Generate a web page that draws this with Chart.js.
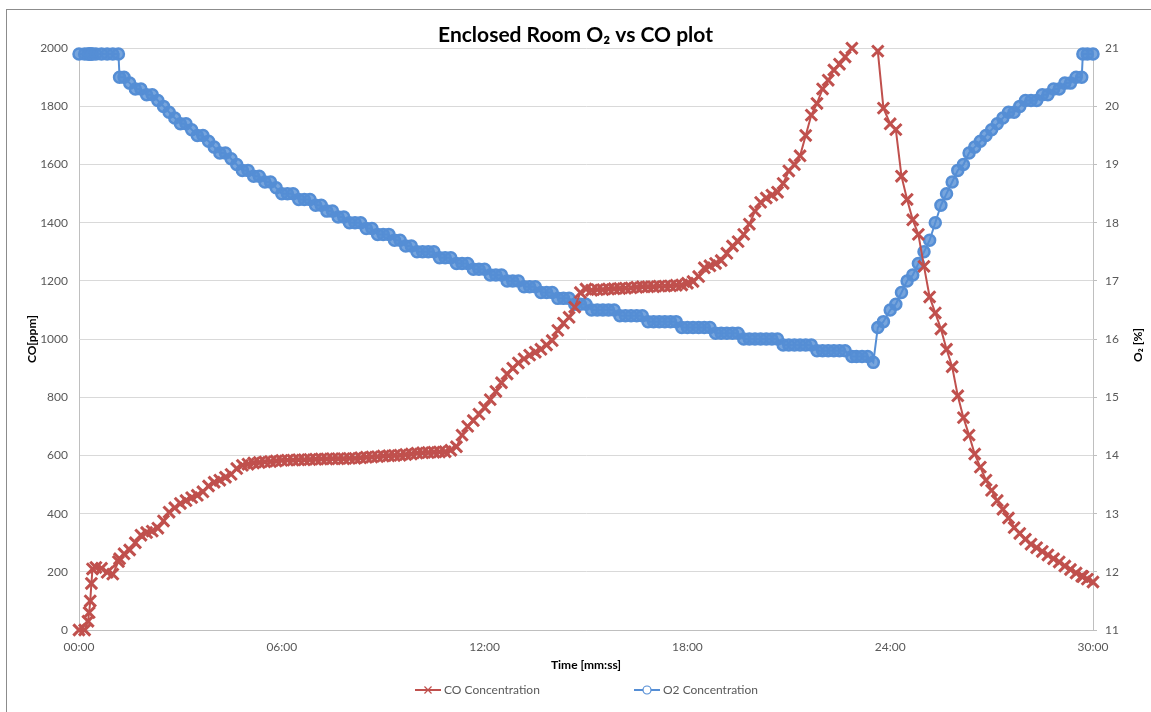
<!DOCTYPE html>
<html>
<head>
<meta charset="utf-8">
<script src="https://cdn.jsdelivr.net/npm/chart.js@4.4.1/dist/chart.umd.min.js"></script>
<style>
  html, body { margin: 0; padding: 0; background: #fff; }
</style>
</head>
<body>
<canvas id="roomChart" width="1151" height="712"></canvas>
<script>
// sample times in seconds from start of test
const timeSec = [
  0, 10, 16, 18, 20, 22, 24, 30, 40, 50,
  60, 70, 72, 80, 90, 100, 110, 120, 130, 140,
  150, 160, 170, 180, 190, 200, 210, 220, 230, 240,
  250, 260, 270, 280, 290, 300, 310, 320, 330, 340,
  350, 360, 370, 380, 390, 400, 410, 420, 430, 440,
  450, 460, 470, 480, 490, 500, 510, 520, 530, 540,
  550, 560, 570, 580, 590, 600, 610, 620, 630, 640,
  650, 660, 670, 680, 690, 700, 710, 720, 730, 740,
  750, 760, 770, 780, 790, 800, 810, 820, 830, 840,
  850, 860, 870, 880, 890, 900, 910, 920, 930, 940,
  950, 960, 970, 980, 990, 1000, 1010, 1020, 1030, 1040,
  1050, 1060, 1070, 1080, 1090, 1100, 1110, 1120, 1130, 1140,
  1150, 1160, 1170, 1180, 1190, 1200, 1210, 1220, 1230, 1240,
  1250, 1260, 1270, 1280, 1290, 1300, 1310, 1320, 1330, 1340,
  1350, 1360, 1372, 1380, 1390, 1400, 1410, 1418, 1428, 1440,
  1450, 1460, 1470, 1480, 1490, 1500, 1510, 1520, 1530, 1540,
  1550, 1560, 1570, 1580, 1590, 1600, 1610, 1620, 1630, 1640,
  1650, 1660, 1670, 1680, 1690, 1700, 1710, 1720, 1730, 1740,
  1750, 1760, 1770, 1780, 1782, 1790, 1800
];

// CO [ppm], null where the reading is above the 2000 ppm axis
const coPpm = [
  0, 0, 30, 60, 100, 160, 210, 215, 212, 198,
  192, 235, 245, 262, 275, 300, 326, 335, 340, 350,
  375, 405, 420, 435, 445, 455, 463, 475, 495, 508,
  515, 525, 535, 555, 566, 570, 574, 576, 578, 579,
  581, 583, 584, 584, 585, 585, 586, 587, 588, 588,
  589, 589, 589, 590, 590, 592, 594, 595, 596, 598,
  599, 600, 601, 603, 605, 608, 609, 610, 611, 612,
  613, 618, 630, 670, 700, 720, 742, 765, 792, 820,
  850, 880, 900, 918, 932, 945, 955, 965, 980, 995,
  1030, 1055, 1075, 1110, 1160, 1172, 1168, 1170, 1170, 1172,
  1173, 1174, 1175, 1176, 1178, 1180, 1180, 1180, 1182, 1182,
  1183, 1185, 1186, 1192, 1198, 1215, 1245, 1252, 1260, 1270,
  1295, 1320, 1335, 1360, 1395, 1440, 1470, 1485, 1495, 1505,
  1535, 1578, 1600, 1630, 1700, 1770, 1810, 1860, 1890, 1925,
  1945, 1970, 2000, null, null, null, null, 1990, 1794, 1740,
  1720, 1560, 1480, 1410, 1360, 1250, 1145, 1090, 1035, 965,
  905, 805, 730, 670, 605, 560, 515, 480, 445, 415,
  385, 352, 332, 312, 295, 283, 270, 258, 245, 234,
  220, 208, 196, 185, 184, 175, 165
];

// O2 [%]
const o2Pct = [
  20.9, 20.9, 20.9, 20.9, 20.9, 20.9, 20.9, 20.9, 20.9, 20.9,
  20.9, 20.9, 20.5, 20.5, 20.4, 20.3, 20.3, 20.2, 20.2, 20.1,
  20.0, 19.9, 19.8, 19.7, 19.7, 19.6, 19.5, 19.5, 19.4, 19.3,
  19.2, 19.2, 19.1, 19.0, 18.9, 18.9, 18.8, 18.8, 18.7, 18.7,
  18.6, 18.5, 18.5, 18.5, 18.4, 18.4, 18.4, 18.3, 18.3, 18.2,
  18.2, 18.1, 18.1, 18.0, 18.0, 18.0, 17.9, 17.9, 17.8, 17.8,
  17.8, 17.7, 17.7, 17.6, 17.6, 17.5, 17.5, 17.5, 17.5, 17.4,
  17.4, 17.4, 17.3, 17.3, 17.3, 17.2, 17.2, 17.2, 17.1, 17.1,
  17.1, 17.0, 17.0, 17.0, 16.9, 16.9, 16.9, 16.8, 16.8, 16.8,
  16.7, 16.7, 16.7, 16.6, 16.6, 16.6, 16.5, 16.5, 16.5, 16.5,
  16.5, 16.4, 16.4, 16.4, 16.4, 16.4, 16.3, 16.3, 16.3, 16.3,
  16.3, 16.3, 16.2, 16.2, 16.2, 16.2, 16.2, 16.2, 16.1, 16.1,
  16.1, 16.1, 16.1, 16.0, 16.0, 16.0, 16.0, 16.0, 16.0, 16.0,
  15.9, 15.9, 15.9, 15.9, 15.9, 15.9, 15.8, 15.8, 15.8, 15.8,
  15.8, 15.8, 15.7, 15.7, 15.7, 15.7, 15.6, 16.2, 16.3, 16.5,
  16.6, 16.8, 17.0, 17.1, 17.3, 17.5, 17.7, 18.0, 18.3, 18.5,
  18.7, 18.9, 19.0, 19.2, 19.3, 19.4, 19.5, 19.6, 19.7, 19.8,
  19.9, 19.9, 20.0, 20.1, 20.1, 20.1, 20.2, 20.2, 20.3, 20.3,
  20.4, 20.4, 20.5, 20.5, 20.9, 20.9, 20.9
];

const xTickLabels = ['00:00', '06:00', '12:00', '18:00', '24:00', '30:00'];

const coColor = '#c0504d';
const o2Color = '#558ed5';
const tickColor = '#595959';

Chart.defaults.font.family = 'Lato, "Open Sans", "DejaVu Sans", sans-serif';
Chart.defaults.font.size = 12;

const coPoints = timeSec.map((t, i) => ({ x: t, y: coPpm[i] }));
const o2Points = timeSec.map((t, i) => ({ x: t, y: o2Pct[i] }));

// white page + grey frame, right axis title and the legend row
const extras = {
  id: 'extras',
  beforeDraw(chart) {
    const c = chart.ctx;
    c.save();
    c.fillStyle = '#fff';
    c.fillRect(0, 0, chart.width, chart.height);
    c.strokeStyle = '#8c8c8c';
    c.lineWidth = 1;
    c.strokeRect(6.5, 9.5, chart.width + 20, chart.height + 20);
    c.restore();
  },
  afterDraw(chart) {
    const c = chart.ctx;
    c.save();
    // O2 axis title, reads bottom to top like the left one
    c.translate(1138, 345);
    c.rotate(-Math.PI / 2);
    c.fillStyle = '#000';
    c.font = 'bold 12px ' + Chart.defaults.font.family;
    c.textAlign = 'center';
    c.textBaseline = 'middle';
    c.fillText('O₂ [%]', 0, 0);
    c.restore();

    const items = [
      { ds: chart.data.datasets[0], x: 415, r: 5 },
      { ds: chart.data.datasets[1], x: 634, r: 4 }
    ];
    const y = 690;
    items.forEach(it => {
      c.save();
      c.strokeStyle = it.ds.borderColor;
      c.lineWidth = 2;
      c.beginPath();
      c.moveTo(it.x, y);
      c.lineTo(it.x + 26, y);
      c.stroke();
      c.fillStyle = '#fff';
      c.lineWidth = 1.2;
      Chart.helpers.drawPoint(c, { pointStyle: it.ds.pointStyle, radius: it.r, borderWidth: 1.2 }, it.x + 13, y);
      c.restore();
      c.save();
      c.fillStyle = tickColor;
      c.font = '12px ' + Chart.defaults.font.family;
      c.textBaseline = 'middle';
      c.fillText(it.ds.label, it.x + 29, y);
      c.restore();
    });
  }
};

new Chart(document.getElementById('roomChart'), {
  type: 'line',
  data: {
    datasets: [
      {
        label: 'CO Concentration',
        data: coPoints,
        yAxisID: 'y',
        borderColor: coColor,
        backgroundColor: coColor,
        borderWidth: 2,
        pointStyle: 'crossRot',
        pointRadius: 8,
        pointBorderWidth: 3,
        pointBorderColor: coColor,
        clip: false
      },
      {
        label: 'O2 Concentration',
        data: o2Points,
        yAxisID: 'y2',
        borderColor: o2Color,
        backgroundColor: 'rgba(85,142,213,0.8)',
        borderWidth: 2,
        pointStyle: 'circle',
        pointRadius: 5.5,
        pointBorderWidth: 2.5,
        pointBorderColor: o2Color,
        pointBackgroundColor: 'rgba(85,142,213,0.8)',
        clip: false
      }
    ]
  },
  options: {
    responsive: false,
    animation: false,
    layout: { padding: { left: 0, right: 0, top: 0, bottom: 40 } },
    plugins: {
      legend: { display: false },
      tooltip: { enabled: false },
      title: {
        display: true,
        text: 'Enclosed Room O₂ vs CO plot',
        color: '#000',
        font: { size: 21, weight: 'bold' },
        padding: { top: 23, bottom: 0 }
      }
    },
    scales: {
      x: {
        type: 'linear',
        min: 0,
        max: 1800,
        ticks: {
          stepSize: 360,
          padding: 10,
          color: tickColor,
          maxRotation: 0,
          callback: (v, i) => xTickLabels[i]
        },
        grid: { display: false, drawTicks: false },
        border: { display: true, color: '#bfbfbf' },
        title: {
          display: true,
          text: 'Time [mm:ss]',
          color: '#000',
          font: { size: 12, weight: 'bold' },
          padding: { top: 4, bottom: 0 }
        },
        afterFit(s) { s.height = 42; }
      },
      y: {
        position: 'left',
        min: 0,
        max: 2000,
        ticks: { stepSize: 200, padding: 11, color: tickColor, callback: v => String(v) },
        grid: { color: '#d9d9d9', drawTicks: false },
        border: { color: '#bfbfbf' },
        title: {
          display: true,
          text: 'CO[ppm]',
          color: '#000',
          font: { size: 12, weight: 'bold' },
          padding: { top: 25, bottom: 0 }
        },
        afterFit(s) { s.width = 79; }
      },
      y2: {
        position: 'right',
        min: 11,
        max: 21,
        ticks: { stepSize: 1, padding: 8, color: tickColor },
        grid: { drawOnChartArea: false, tickLength: 4, color: '#bfbfbf' },
        border: { color: '#bfbfbf' },
        afterFit(s) { s.width = 58; }
      }
    }
  },
  plugins: [extras]
});
</script>
</body>
</html>
